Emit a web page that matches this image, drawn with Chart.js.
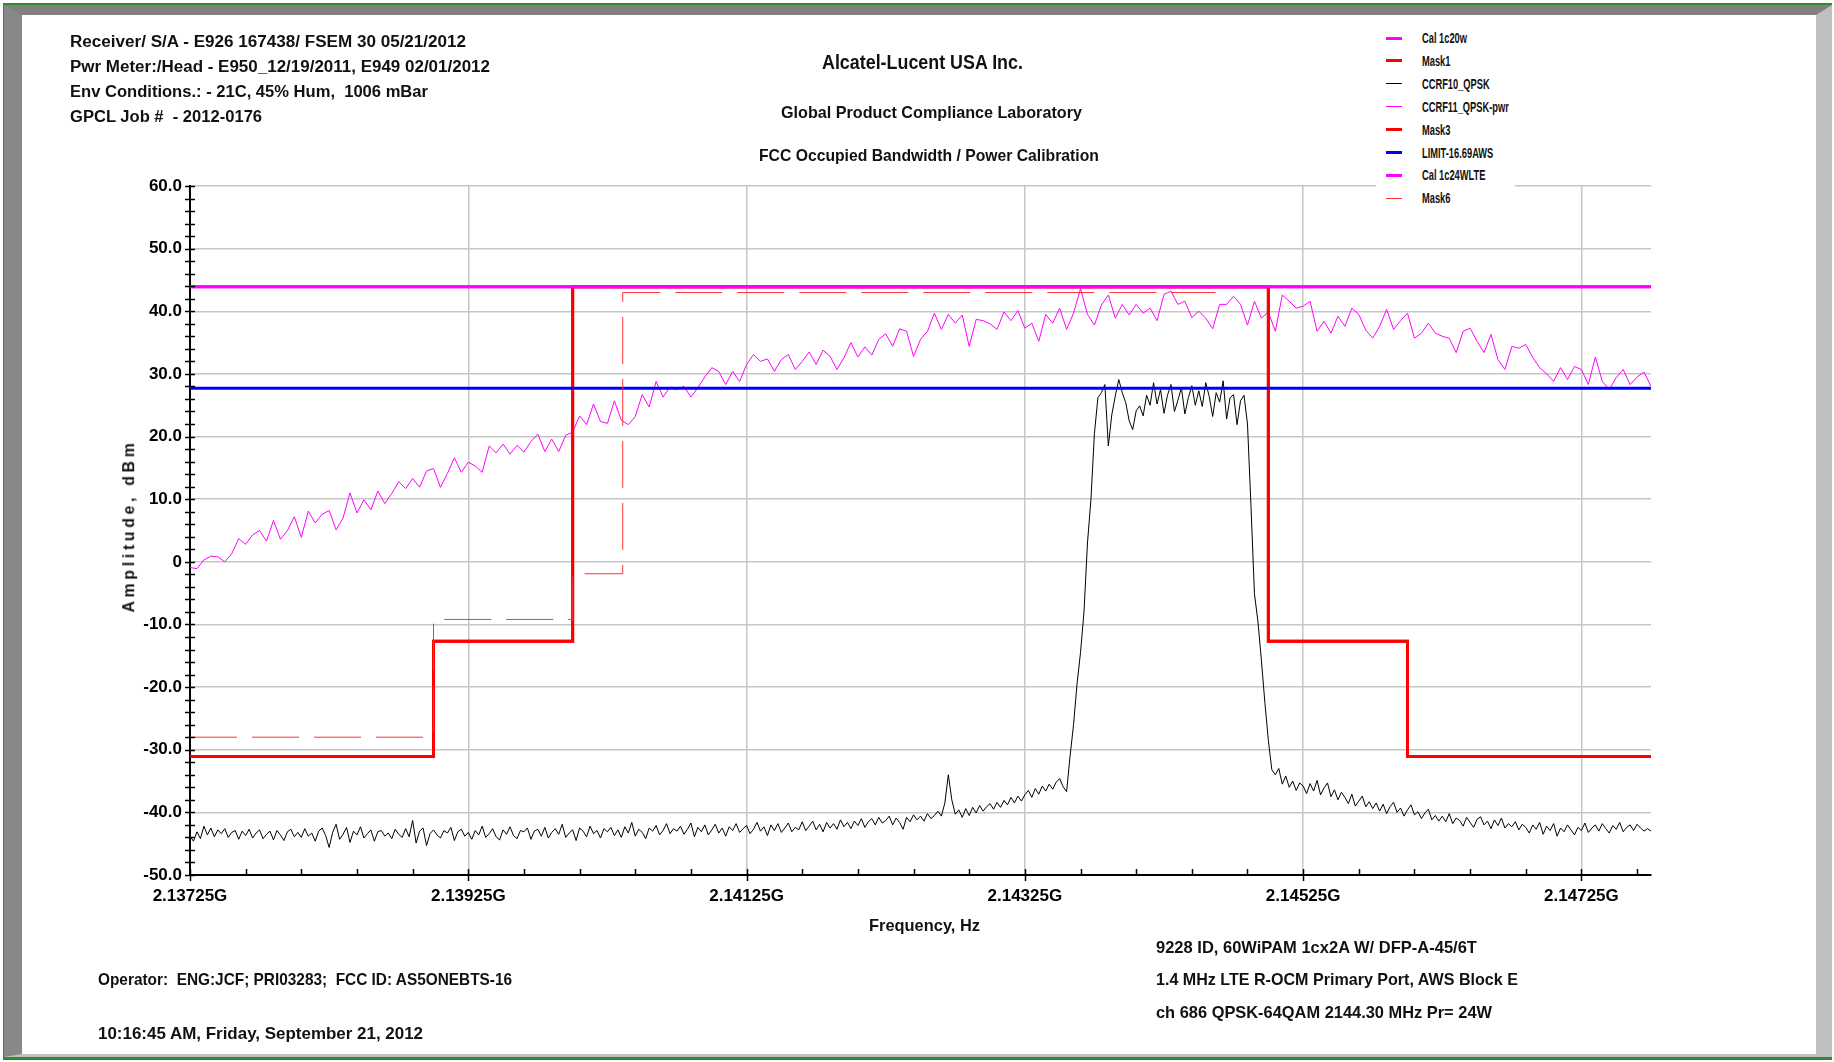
<!DOCTYPE html>
<html>
<head>
<meta charset="utf-8">
<script src="https://cdn.jsdelivr.net/npm/chart.js@4.4.1/dist/chart.umd.min.js"></script>
<style>
  body { margin:0; background:#fff; width:1834px; height:1062px; overflow:hidden; position:relative; }
  #outer { position:absolute; left:3px; top:3px; width:1829px; height:1057px; box-sizing:border-box;
           border-top:2px solid #2e8b2e; border-bottom:3px solid #2e8b2e; border-left:1px solid #2e8b2e; }
  #bevel { position:absolute; left:0; top:0; right:0; bottom:0; background:#fff;
           border-left:18px solid #888; border-top:10px solid #808080;
           border-right:16px solid #c0c0c0; border-bottom:3px solid #c0c0c0; }
  canvas { position:absolute; left:0; top:0; }
  .t { position:absolute; white-space:pre; font-family:'Liberation Sans Narrow','Arial Narrow','Liberation Sans',Arial,sans-serif;
       font-weight:bold; color:#111; transform-origin:0 50%; line-height:20px; }
  #legend { position:absolute; left:1376px; top:24px; width:139px; height:184px; background:#fff; }
  .lg { position:absolute; left:10px; height:20px; }
  .lg i { position:absolute; left:0; width:16px; top:50%; }
  .lg span { position:absolute; left:36px; top:0; line-height:20px; font-size:15px; font-weight:bold; white-space:pre; color:#111;
             font-family:'Liberation Sans Narrow','Arial Narrow','Liberation Sans',Arial,sans-serif; transform-origin:0 50%; }
</style>
</head>
<body>
<div id="outer"><div id="bevel"></div></div>
<canvas id="chart" width="1834" height="1062"></canvas>
<div id="legend"></div>
<div id="texts"></div>
<script>
// Frequency axis in MHz
const freqStart = 2137.25;
const freqEnd = 2147.75;
const traceStep = 0.025;
const pwrStep = 0.05;
const xMajorLabels = ['2.13725G','2.13925G','2.14125G','2.14325G','2.14525G','2.14725G'];

// CCRF10_QPSK trace (dBm), one value every 25 kHz
const ccrf10 = [
  -43.8,-44.6,-43.1,-44.2,-42.2,-43.6,-42.5,-43.9,-42.8,-43.4,-42.6,-44.0,-43.2,-42.9,-44.3,-43.0,-43.7,-42.7,-44.1,-43.3,
  -42.8,-44.2,-43.5,-43.0,-44.4,-42.9,-43.6,-44.5,-43.1,-42.7,-43.9,-43.2,-44.0,-42.6,-43.8,-43.3,-44.6,-43.0,-42.5,-43.7,
  -45.6,-43.2,-41.9,-44.3,-43.5,-42.4,-44.8,-43.0,-43.6,-42.3,-44.1,-43.4,-42.8,-44.6,-43.1,-42.9,-43.8,-43.3,-44.2,-42.7,
  -43.5,-44.0,-42.6,-43.9,-41.3,-44.9,-43.0,-42.5,-45.3,-43.4,-42.8,-43.6,-44.1,-42.9,-43.3,-42.4,-44.5,-43.1,-42.7,-43.8,
  -43.2,-44.3,-42.9,-43.6,-42.2,-44.0,-43.4,-42.6,-43.9,-44.4,-42.8,-43.5,-42.3,-43.7,-44.2,-42.9,-43.1,-42.5,-44.3,-43.0,
  -42.7,-43.8,-42.4,-44.1,-43.2,-42.6,-43.5,-41.9,-44.0,-43.3,-42.8,-44.5,-42.5,-43.0,-43.9,-42.2,-43.4,-42.9,-44.1,-42.6,
  -43.1,-42.4,-43.7,-42.8,-44.0,-42.3,-43.3,-41.6,-43.8,-42.7,-43.2,-44.2,-42.5,-43.0,-42.1,-43.6,-42.9,-41.8,-43.4,-42.6,
  -43.0,-42.2,-43.5,-42.7,-41.7,-43.9,-42.4,-43.1,-42.0,-43.6,-42.8,-41.9,-43.3,-42.5,-43.8,-42.3,-42.9,-41.8,-43.2,-42.6,
  -42.1,-43.4,-42.7,-41.6,-43.0,-42.3,-43.7,-42.0,-42.9,-41.8,-43.2,-42.5,-41.7,-43.1,-42.4,-42.8,-41.5,-42.9,-42.2,-41.4,
  -42.8,-41.9,-43.1,-41.6,-42.5,-41.8,-42.7,-41.2,-42.3,-41.6,-42.6,-41.4,-42.1,-41.0,-42.4,-41.5,-41.0,-42.0,-40.8,-41.7,
  -41.3,-40.6,-42.0,-40.9,-41.6,-42.7,-40.8,-41.5,-40.4,-41.2,-40.6,-41.4,-40.2,-41.0,-40.5,-39.8,-40.6,-38.5,-34.0,-38.0,
  -40.3,-39.6,-40.8,-39.4,-40.5,-39.2,-40.1,-38.9,-39.8,-39.1,-38.6,-39.5,-38.4,-39.2,-38.1,-38.8,-37.6,-38.5,-37.4,-38.2,
  -37.2,-36.5,-37.6,-36.2,-37.1,-35.8,-36.6,-35.5,-36.3,-35.2,-34.6,-35.9,-36.7,-31.0,-26.0,-19.5,-14.5,-8.0,3.0,10.0,
  20.5,26.2,27.0,28.3,18.5,23.5,26.5,29.1,27.0,25.4,22.5,21.1,24.1,24.9,23.3,26.6,25.0,28.6,25.2,27.5,
  23.7,26.6,28.3,24.0,25.8,27.8,23.6,26.2,28.1,25.0,27.3,24.8,28.6,26.4,23.2,27.0,25.5,28.9,22.8,26.2,
  26.7,21.9,25.7,26.6,22.0,9.0,-5.1,-9.5,-15.7,-22.5,-28.5,-33.2,-34.0,-33.0,-35.5,-34.2,-36.0,-35.0,-36.5,-35.3,
  -35.8,-37.0,-35.4,-36.6,-34.9,-37.2,-36.1,-35.3,-37.5,-36.4,-38.0,-36.8,-37.6,-38.6,-37.1,-39.0,-38.2,-37.4,-39.1,-38.3,
  -39.4,-38.5,-39.8,-38.7,-40.2,-39.1,-38.4,-40.0,-39.3,-40.6,-39.6,-38.8,-40.4,-39.9,-41.0,-40.1,-39.5,-41.2,-40.5,-41.4,
  -40.6,-41.5,-40.2,-41.8,-40.9,-41.3,-42.2,-40.8,-41.6,-42.4,-41.1,-40.7,-42.0,-41.4,-42.6,-41.2,-42.1,-40.9,-42.5,-41.8,
  -42.3,-41.5,-42.8,-41.9,-42.4,-43.3,-42.0,-42.7,-41.6,-43.5,-42.2,-42.9,-41.8,-43.8,-42.5,-43.1,-42.0,-42.8,-43.6,-42.4,
  -42.9,-41.7,-43.2,-42.5,-42.0,-43.0,-41.8,-42.6,-43.3,-42.1,-42.7,-41.6,-43.1,-42.4,-42.0,-42.9,-41.9,-42.5,-43.0,-42.6,
  -43.0
];

// CCRF11_QPSK-pwr trace (dBm), one value every 50 kHz
const ccrf11 = [
  -0.9,-1.1,0.3,0.9,0.8,0.0,1.3,3.7,2.8,4.3,
  5.0,3.3,6.6,3.6,5.0,7.2,3.9,8.1,6.2,7.6,
  8.2,5.1,7.0,11.0,7.8,9.9,8.3,11.3,9.3,10.9,
  12.8,11.7,13.3,11.9,14.5,14.9,11.9,14.1,16.6,14.3,
  15.9,15.3,14.3,18.5,17.4,18.8,17.2,18.6,17.5,19.2,
  20.4,17.6,19.6,17.6,20.2,20.7,23.3,21.9,25.2,22.4,
  22.1,25.7,22.6,21.9,23.2,26.7,24.7,28.8,26.3,27.9,
  27.5,28.0,26.3,27.8,29.5,31.0,30.4,28.3,30.4,28.8,
  31.5,33.1,32.0,32.4,30.4,32.3,33.1,30.7,32.0,33.5,
  31.5,33.8,32.8,30.7,32.6,35.0,32.7,34.3,33.0,35.5,
  36.4,34.4,37.2,36.8,32.8,35.5,36.8,39.7,37.1,39.5,
  38.1,39.4,34.4,38.7,38.5,38.0,37.1,39.9,38.5,40.1,
  37.3,38.1,35.2,39.5,38.1,40.5,37.1,39.7,43.6,39.5,
  37.8,41.0,42.6,38.9,41.1,39.4,41.1,39.7,40.5,38.5,
  42.7,43.2,41.1,41.6,39.0,40.0,38.9,37.2,41.1,41.1,
  42.4,41.1,37.8,41.6,38.9,39.9,36.8,42.6,41.6,40.5,
  40.8,41.6,36.8,38.4,36.5,39.2,37.6,40.5,39.5,37.0,
  35.7,37.6,40.3,37.1,38.5,39.7,35.7,36.5,38.1,36.5,
  36.0,35.7,33.4,36.8,37.3,35.2,33.4,36.3,32.3,30.7,
  34.4,34.1,34.7,32.6,31.0,30.0,28.8,31.0,29.1,31.2,
  30.7,28.3,32.7,28.8,27.5,29.4,30.7,28.3,29.5,30.3,28.0
];

// Flat reference lines
const calX = [2137.25, 2147.75];
const cal20wY = [43.9, 43.9];
const cal24wY = [43.9, 43.9];
const limitX = [2137.25, 2147.75];
const limitY = [27.7, 27.7];

// Emission masks (corner points)
const mask1X = [2137.25, 2139.0, 2139.0, 2140.0, 2140.0, 2145.0, 2145.0, 2146.0, 2146.0, 2147.75];
const mask1Y = [-31.1, -31.1, -12.7, -12.7, 43.9, 43.9, -12.7, -12.7, -31.1, -31.1];
const mask3X = mask1X;
const mask3Y = mask1Y;
const mask6X = [2137.25, 2139.0, 2139.0, 2140.0, 2140.0, 2140.36, 2140.36, 2144.62];
const mask6Y = [-28.0, -28.0, -9.2, -9.2, -1.9, -1.9, 43.0, 43.0];

const pts = (xs, ys) => xs.map((x, i) => ({ x: x, y: ys[i] }));
const trace = (vals, step) => vals.map((v, i) => ({ x: freqStart + i * step, y: v }));

const FONT = "'Liberation Sans Narrow','Arial Narrow','Liberation Sans',Arial,sans-serif";

const datasets = [
  { label: 'Cal 1c20w', data: pts(calX, cal20wY), borderColor: '#ff00ff', borderWidth: 3 },
  { label: 'Mask1', data: pts(mask1X, mask1Y), borderColor: '#ff0000', borderWidth: 3 },
  { label: 'CCRF10_QPSK', data: trace(ccrf10, traceStep), borderColor: '#000000', borderWidth: 1 },
  { label: 'CCRF11_QPSK-pwr', data: trace(ccrf11, pwrStep), borderColor: '#ff00ff', borderWidth: 1 },
  { label: 'Mask3', data: pts(mask3X, mask3Y), borderColor: '#ff0000', borderWidth: 3 },
  { label: 'LIMIT-16.69AWS', data: pts(limitX, limitY), borderColor: '#0000ff', borderWidth: 3 },
  { label: 'Cal 1c24WLTE', data: pts(calX, cal24wY), borderColor: '#ff00ff', borderWidth: 3 },
  { label: 'Mask6', data: pts(mask6X, mask6Y), borderColor: '#ff3333', borderWidth: 1, borderDash: [47, 15] }
];
datasets.forEach((d, i) => {
  d.showLine = true; d.pointRadius = 0; d.tension = 0; d.fill = false;
  d.order = datasets.length - i;
});

const isMajorX = v => {
  const k = (v - freqStart) / 2;
  return Math.abs(k - Math.round(k)) < 1e-6;
};

// tick marks crossing the axes
const tickMarks = {
  id: 'tickMarks',
  afterDraw(chart) {
    const { ctx, chartArea: a, scales: { x, y } } = chart;
    ctx.save();
    ctx.strokeStyle = '#000';
    ctx.lineWidth = 1.5;
    ctx.beginPath();
    y.ticks.forEach(t => {
      const py = Math.round(y.getPixelForValue(t.value)) + 0.5;
      ctx.moveTo(a.left - 5, py); ctx.lineTo(a.left + 5, py);
    });
    x.ticks.forEach(t => {
      const px = Math.round(x.getPixelForValue(t.value)) + 0.5;
      ctx.moveTo(px, isMajorX(t.value) ? a.bottom + 6 : a.bottom);
      ctx.lineTo(px, a.bottom - 6);
    });
    ctx.stroke();
    ctx.restore();
  }
};

new Chart(document.getElementById('chart'), {
  type: 'scatter',
  data: { datasets: datasets },
  options: {
    responsive: false,
    devicePixelRatio: 1,
    animation: false,
    events: [],
    layout: { padding: { left: 0, top: 186, right: 183, bottom: 147 } },
    plugins: { legend: { display: false }, tooltip: { enabled: false } },
    scales: {
      x: {
        type: 'linear',
        min: freqStart,
        max: freqEnd,
        afterFit: s => { s.height = 40; },
        afterBuildTicks: s => {
          const ticks = [];
          for (let k = 0; freqStart + k * 0.4 <= freqEnd + 1e-9; k++) ticks.push({ value: freqStart + k * 0.4 });
          s.ticks = ticks;
        },
        ticks: {
          autoSkip: false, maxRotation: 0, padding: 11, color: '#000',
          font: { family: FONT, size: 17, weight: 'bold' },
          callback: v => isMajorX(v) ? xMajorLabels[Math.round((v - freqStart) / 2)] : ''
        },
        grid: {
          drawTicks: false, lineWidth: 1.5,
          color: c => (c.tick && isMajorX(c.tick.value) && c.tick.value > freqStart + 0.1) ? '#c6c6c6' : 'rgba(0,0,0,0)'
        },
        border: { display: true, color: '#000', width: 2 }
      },
      y: {
        type: 'linear',
        min: -50,
        max: 60,
        afterFit: s => { s.width = 190; },
        ticks: {
          stepSize: 2, autoSkip: false, padding: 8, color: '#000',
          font: { family: FONT, size: 17, weight: 'bold' },
          callback: v => (v % 10 === 0) ? (v === 0 ? '0' : v.toFixed(1)) : ''
        },
        grid: {
          drawTicks: false, lineWidth: 1.5,
          color: c => (c.tick && c.tick.value % 10 === 0 && c.tick.value > -50) ? '#c6c6c6' : 'rgba(0,0,0,0)'
        },
        border: { display: true, color: '#000', width: 2 }
      }
    }
  },
  plugins: [tickMarks]
});

// legend built from the datasets
const legend = document.getElementById('legend');
datasets.forEach((d, i) => {
  const row = document.createElement('div');
  row.className = 'lg';
  row.style.top = (4 + i * 22.9) + 'px';
  const sw = document.createElement('i');
  sw.style.borderTop = d.borderWidth + 'px solid ' + d.borderColor;
  sw.style.marginTop = (-d.borderWidth / 2) + 'px';
  const tx = document.createElement('span');
  tx.textContent = d.label;
  tx.style.transform = 'scaleX(0.62)';
  row.appendChild(sw); row.appendChild(tx);
  legend.appendChild(row);
});

// page texts: [left, centerY, fontSize, targetWidth, text]
const texts = [
  [70, 41.5, 16, 396, 'Receiver/ S/A - E926 167438/ FSEM 30 05/21/2012'],
  [70, 66.5, 16, 420, 'Pwr Meter:/Head - E950_12/19/2011, E949 02/01/2012'],
  [70, 91.5, 16, 358, 'Env Conditions.: - 21C, 45% Hum,  1006 mBar'],
  [70, 117, 16, 192, 'GPCL Job #  - 2012-0176'],
  [822, 62, 21, 201, 'Alcatel-Lucent USA Inc.'],
  [781, 113, 17, 301, 'Global Product Compliance Laboratory'],
  [759, 156, 17, 340, 'FCC Occupied Bandwidth / Power Calibration'],
  [869, 926, 17, 111, 'Frequency, Hz'],
  [1156, 948, 17, 321, '9228 ID, 60WiPAM 1cx2A W/ DFP-A-45/6T'],
  [1156, 980, 17, 362, '1.4 MHz LTE R-OCM Primary Port, AWS Block E'],
  [1156, 1013, 17, 336, 'ch 686 QPSK-64QAM 2144.30 MHz Pr= 24W'],
  [98, 980, 17, 414, 'Operator:  ENG:JCF; PRI03283;  FCC ID: AS5ONEBTS-16'],
  [98, 1034, 17, 325, '10:16:45 AM, Friday, September 21, 2012']
];
const holder = document.getElementById('texts');
texts.forEach(([left, cy, size, w, str]) => {
  const el = document.createElement('div');
  el.className = 't';
  el.textContent = str;
  el.style.left = left + 'px';
  el.style.top = (cy - 10) + 'px';
  el.style.fontSize = size + 'px';
  holder.appendChild(el);
  const actual = el.getBoundingClientRect().width;
  el.style.transform = 'scaleX(' + (w / actual).toFixed(3) + ')';
});

// rotated y-axis title
const yt = document.createElement('div');
yt.className = 't';
yt.textContent = 'Amplitude, dBm';
yt.style.fontSize = '17px';
yt.style.letterSpacing = '4px';
holder.appendChild(yt);
const yw = yt.getBoundingClientRect().width;
yt.style.left = (129 - yw / 2) + 'px';
yt.style.top = (526 - 10) + 'px';
yt.style.transformOrigin = '50% 50%';
yt.style.transform = 'rotate(-90deg) scaleX(' + (173 / yw).toFixed(3) + ')';
</script>
</body>
</html>
